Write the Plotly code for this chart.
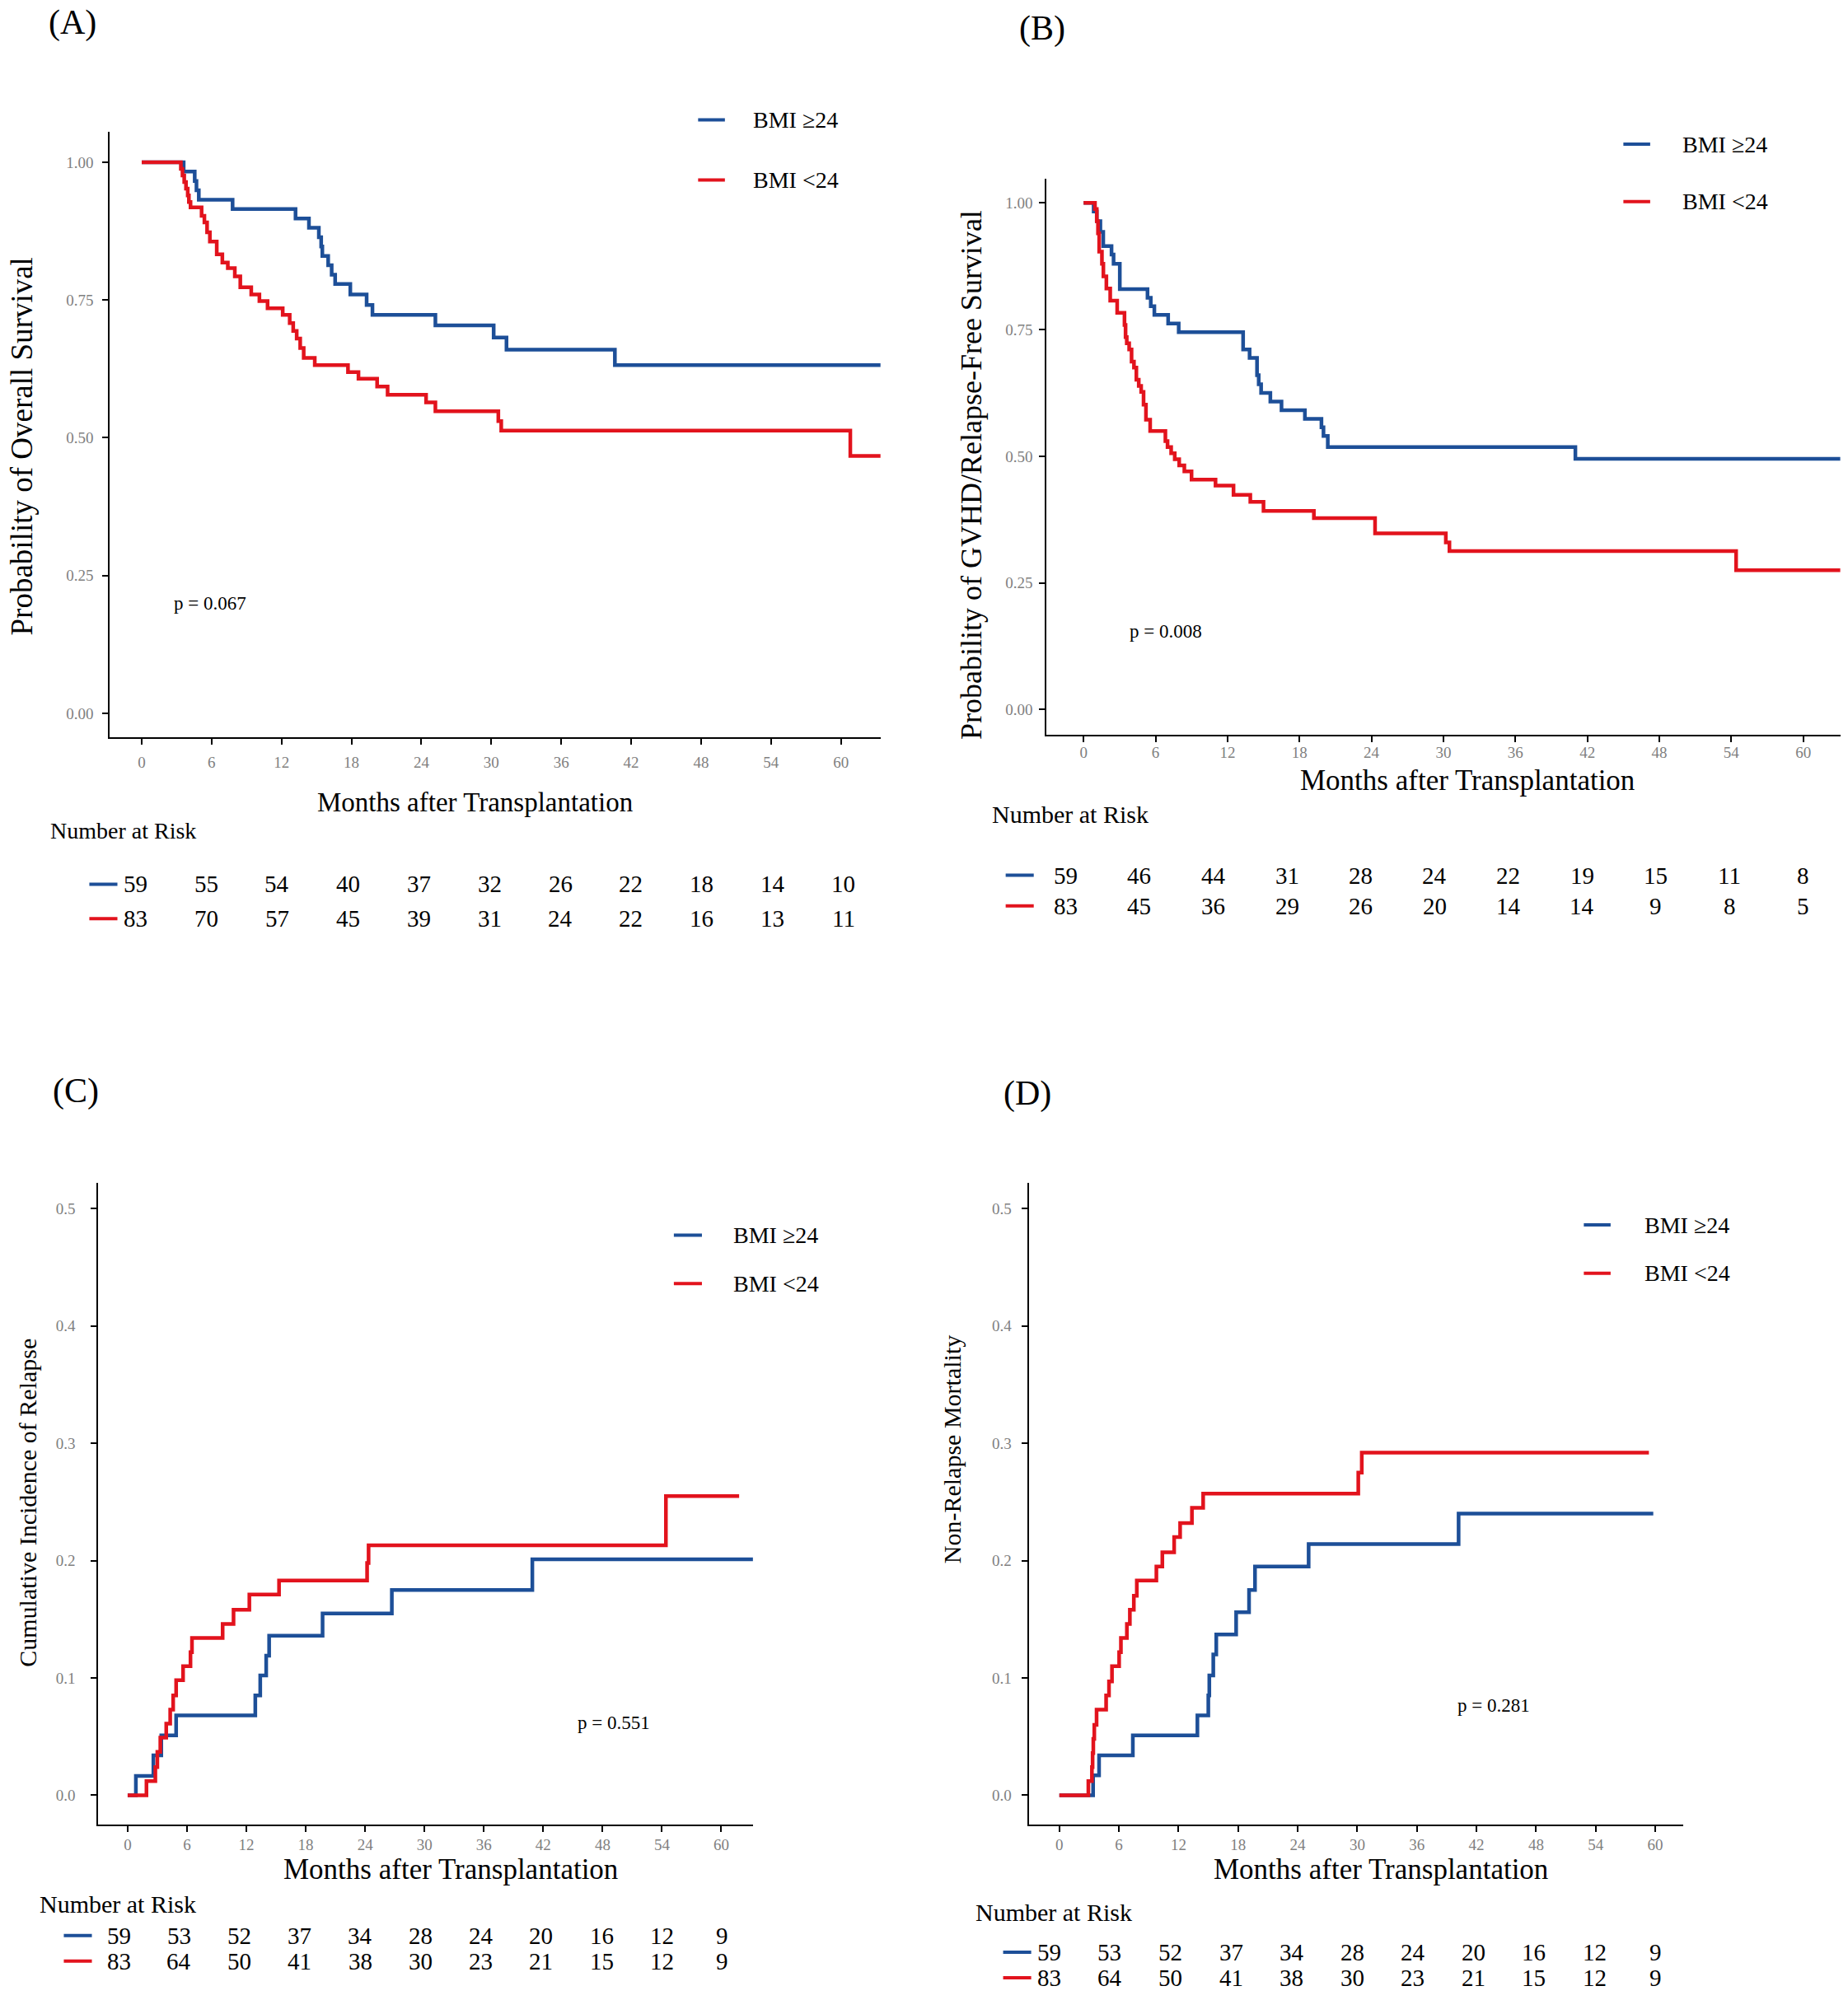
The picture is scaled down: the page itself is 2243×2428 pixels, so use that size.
import plotly.graph_objects as go

W, H = 2243, 2428
# layout positions below are measured on a 1448 x 1567.5 grid of the page
GW, GH = 1448.0, 1567.5
BLUE = '#1D4F98'
RED = '#E2131D'
FONT = 'Liberation Serif'

months = [0, 6, 12, 18, 24, 30, 36, 42, 48, 54, 60]

# (A) overall survival
os_t_hi = [0, 3.6, 4.55, 4.7, 4.9, 7.8, 13.2, 14.35, 15.2, 15.4, 15.5, 16.0, 16.3, 16.6,
           17.9, 19.3, 19.8, 25.2, 30.2, 31.3, 40.6, 63.4]
os_s_hi = [1.0, 0.983, 0.966, 0.949, 0.932, 0.915, 0.898, 0.881, 0.864, 0.847, 0.830, 0.813,
           0.796, 0.779, 0.760, 0.741, 0.723, 0.704, 0.682, 0.660, 0.632, 0.632]
os_t_lo = [0, 3.36, 3.5, 3.65, 3.8, 3.95, 4.05, 4.19, 5.14, 5.38, 5.61, 5.85, 6.44, 6.92, 7.39,
           7.99, 8.46, 9.4, 10.1, 10.8, 12.1, 12.7, 13.0, 13.3, 13.6, 13.9, 14.85, 17.7, 18.6,
           20.2, 21.1, 24.4, 25.2, 30.6, 30.85, 60.8, 63.4]
os_s_lo = [1.0, 0.988, 0.976, 0.964, 0.952, 0.940, 0.928, 0.918, 0.903, 0.891, 0.873, 0.856,
           0.833, 0.818, 0.808, 0.793, 0.773, 0.760, 0.748, 0.735, 0.723, 0.708, 0.694, 0.680,
           0.663, 0.645, 0.632, 0.619, 0.607, 0.593, 0.578, 0.564, 0.548, 0.530, 0.513, 0.467,
           0.467]

# (B) GVHD/relapse-free survival
grfs_t_hi = [0, 0.84, 1.1, 1.4, 1.64, 2.33, 2.5, 3.02, 5.33, 5.6, 5.9, 7.05, 7.93, 13.3, 13.84,
             14.46, 14.6, 14.8, 15.57, 16.5, 18.45, 19.83, 20.0, 20.36, 41.0, 63.1]
grfs_s_hi = [1.0, 0.983, 0.964, 0.943, 0.915, 0.898, 0.880, 0.830, 0.813, 0.796, 0.779, 0.762,
             0.745, 0.711, 0.694, 0.660, 0.642, 0.625, 0.608, 0.591, 0.574, 0.557, 0.540, 0.518,
             0.495, 0.495]
grfs_t_lo = [0, 0.95, 1.1, 1.2, 1.3, 1.53, 1.65, 1.9, 2.22, 2.8, 3.41, 3.5, 3.6, 3.8, 4.0, 4.2,
             4.4, 4.6, 4.8, 5.0, 5.2, 5.55, 6.82, 7.0, 7.3, 7.6, 7.97, 8.4, 9.0, 11.0, 12.5, 13.9,
             15.0, 19.2, 24.3, 30.2, 30.5, 54.4, 63.1]
grfs_s_lo = [1.0, 0.988, 0.964, 0.940, 0.904, 0.880, 0.855, 0.831, 0.807, 0.783, 0.759, 0.735,
             0.723, 0.711, 0.687, 0.675, 0.651, 0.639, 0.627, 0.602, 0.572, 0.550, 0.530, 0.518,
             0.506, 0.494, 0.482, 0.470, 0.454, 0.442, 0.424, 0.410, 0.392, 0.378, 0.348, 0.330,
             0.313, 0.275, 0.275]

# (C) cumulative incidence of relapse
cir_t_hi = [0, 0.83, 2.6, 3.4, 4.9, 12.9, 13.4, 14.0, 14.3, 19.7, 26.7, 40.9, 63.2]
cir_v_hi = [0, 0.0165, 0.034, 0.051, 0.068, 0.085, 0.102, 0.119, 0.136, 0.155, 0.175, 0.201, 0.201]
cir_t_lo = [0, 1.9, 2.8, 3.0, 3.3, 3.9, 4.3, 4.6, 4.9, 5.6, 6.35, 6.5, 9.6, 10.7, 12.3, 15.3,
            24.2, 24.35, 54.4, 61.8]
cir_v_lo = [0, 0.012, 0.024, 0.037, 0.049, 0.061, 0.073, 0.085, 0.098, 0.110, 0.122, 0.134,
            0.146, 0.158, 0.171, 0.183, 0.198, 0.213, 0.255, 0.255]

# (D) non-relapse mortality
nrm_t_hi = [0, 3.4, 4.0, 7.4, 13.9, 15.0, 15.1, 15.5, 15.8, 17.8, 19.1, 19.7, 25.1, 40.2, 59.8]
nrm_v_hi = [0, 0.017, 0.034, 0.051, 0.068, 0.085, 0.102, 0.120, 0.137, 0.156, 0.175, 0.195,
            0.214, 0.240, 0.240]
nrm_t_lo = [0, 2.92, 3.28, 3.35, 3.42, 3.52, 3.75, 4.71, 5.0, 5.3, 6.02, 6.2, 6.8, 7.1, 7.5, 7.8,
            9.77, 10.37, 11.56, 12.16, 13.35, 14.48, 30.1, 30.45, 59.36]
nrm_v_lo = [0, 0.012, 0.024, 0.036, 0.048, 0.060, 0.073, 0.085, 0.097, 0.110, 0.122, 0.134,
            0.146, 0.158, 0.170, 0.183, 0.195, 0.207, 0.220, 0.232, 0.245, 0.257, 0.275, 0.292,
            0.292]

# number at risk
risk_a_hi = [59, 55, 54, 40, 37, 32, 26, 22, 18, 14, 10]
risk_a_lo = [83, 70, 57, 45, 39, 31, 24, 22, 16, 13, 11]
risk_b_hi = [59, 46, 44, 31, 28, 24, 22, 19, 15, 11, 8]
risk_b_lo = [83, 45, 36, 29, 26, 20, 14, 14, 9, 8, 5]
risk_c_hi = [59, 53, 52, 37, 34, 28, 24, 20, 16, 12, 9]
risk_c_lo = [83, 64, 50, 41, 38, 30, 23, 21, 15, 12, 9]
risk_d_hi = [59, 53, 52, 37, 34, 28, 24, 20, 16, 12, 9]
risk_d_lo = [83, 64, 50, 41, 38, 30, 23, 21, 15, 12, 9]

p_values = ['p = 0.067', 'p = 0.008', 'p = 0.551', 'p = 0.281']


def px(x):
    return x / GW


def py(y):
    return 1 - y / GH


panels = [
    dict(label='(A)', lab_xy=(37, 18), box=(86, 690, 103, 578),
         xr=[-2.74, 63.4], yr=[-0.044, 1.056], xoff=5, yoff=7,
         yt=[0, 0.25, 0.5, 0.75, 1.0], ytxt=['0.00', '0.25', '0.50', '0.75', '1.00'],
         ytitle='Probability of Overall Survival', ytitle_xy=(17, 350), ytitle_size=37,
         xtitle_xy=(372, 629), xtitle_size=33,
         curves=[(os_t_hi, os_s_hi), (os_t_lo, os_s_lo)],
         leg_x=(547, 568, 589), leg_y=(94, 141),
         p_xy=(135, 473), nar_xy=(38, 651), nar_size=28,
         risk=(risk_a_hi, risk_a_lo), risk_x=(106, 661), risk_y=(693, 720), mark_x=(70, 92)),
    dict(label='(B)', lab_xy=(797, 22), box=(820, 1442, 140, 576),
         xr=[-3.09, 63.09], yr=[-0.05, 1.048], xoff=-4, yoff=4,
         yt=[0, 0.25, 0.5, 0.75, 1.0], ytxt=['0.00', '0.25', '0.50', '0.75', '1.00'],
         ytitle='Probability of GVHD/Relapse-Free Survival', ytitle_xy=(761, 372), ytitle_size=36,
         xtitle_xy=(1150, 612), xtitle_size=35,
         curves=[(grfs_t_hi, grfs_s_hi), (grfs_t_lo, grfs_s_lo)],
         leg_x=(1272, 1293, 1317), leg_y=(113, 158),
         p_xy=(884, 495), nar_xy=(776, 638), nar_size=30,
         risk=(risk_b_hi, risk_b_lo), risk_x=(835, 1413), risk_y=(686, 710), mark_x=(788, 810)),
    dict(label='(C)', lab_xy=(40, 855), box=(77, 590, 927, 1430),
         xr=[-2.97, 63.2], yr=[-0.025, 0.522], xoff=-1, yoff=15,
         yt=[0, 0.1, 0.2, 0.3, 0.4, 0.5], ytxt=['0.0', '0.1', '0.2', '0.3', '0.4', '0.5'],
         ytitle='Cumulative Incidence of Relapse', ytitle_xy=(22, 1178), ytitle_size=30,
         xtitle_xy=(353, 1465), xtitle_size=35,
         curves=[(cir_t_hi, cir_v_hi), (cir_t_lo, cir_v_lo)],
         leg_x=(528, 550, 573), leg_y=(968, 1006),
         p_xy=(451, 1350), nar_xy=(30, 1492), nar_size=30,
         risk=(risk_c_hi, risk_c_lo), risk_x=(93, 566), risk_y=(1517, 1537), mark_x=(50, 72)),
    dict(label='(D)', lab_xy=(785, 857), box=(806, 1319, 927, 1430),
         xr=[-3.09, 62.83], yr=[-0.025, 0.522], xoff=-1, yoff=8,
         yt=[0, 0.1, 0.2, 0.3, 0.4, 0.5], ytxt=['0.0', '0.1', '0.2', '0.3', '0.4', '0.5'],
         ytitle='Non-Relapse Mortality', ytitle_xy=(746, 1136), ytitle_size=30,
         xtitle_xy=(1082, 1465), xtitle_size=35,
         curves=[(nrm_t_hi, nrm_v_hi), (nrm_t_lo, nrm_v_lo)],
         leg_x=(1241, 1262, 1287), leg_y=(960, 998),
         p_xy=(1141, 1337), nar_xy=(763, 1499), nar_size=30,
         risk=(risk_d_hi, risk_d_lo), risk_x=(822, 1297), risk_y=(1530, 1550), mark_x=(786, 808)),
]

fig = go.Figure()
annotations = []
shapes = []
colors = [BLUE, RED]
groups = ['BMI ≥24', 'BMI <24']


def txt(s, xy, size, xanchor='left', angle=0):
    annotations.append(dict(text=s, x=px(xy[0]), y=py(xy[1]), xref='paper', yref='paper',
                            xanchor=xanchor, yanchor='middle', showarrow=False,
                            textangle=angle, font=dict(family=FONT, size=size, color='black')))


for i, p in enumerate(panels):
    n = '' if i == 0 else str(i + 1)
    x0, x1, y0, y1 = p['box']
    for (t, v), c in zip(p['curves'], colors):
        fig.add_trace(go.Scatter(x=t, y=v, mode='lines', line=dict(color=c, width=4.5, shape='hv'),
                                 xaxis='x' + n, yaxis='y' + n, showlegend=False, hoverinfo='skip'))

    axis_common = dict(showline=True, linecolor='black', linewidth=2, ticks='outside',
                       ticklen=7, tickwidth=2, tickcolor='black', showgrid=False, zeroline=False,
                       tickfont=dict(family=FONT, size=19, color='#808080'))
    fig.update_layout(**{
        'xaxis' + n: dict(domain=[px(x0), px(x1)], range=p['xr'], tickvals=months,
                          anchor='y' + n, ticklabelstandoff=p['xoff'], **axis_common),
        'yaxis' + n: dict(domain=[py(y1), py(y0)], range=p['yr'], tickvals=p['yt'],
                          ticktext=p['ytxt'], anchor='x' + n, ticklabelstandoff=p['yoff'],
                          **axis_common),
    })

    txt(p['label'], p['lab_xy'], 42)
    txt(p['ytitle'], p['ytitle_xy'], p['ytitle_size'], xanchor='center', angle=-90)
    txt('Months after Transplantation', p['xtitle_xy'], p['xtitle_size'], xanchor='center')
    txt(p_values[i], p['p_xy'], 23)
    txt('Number at Risk', p['nar_xy'], p['nar_size'])

    # legend keys
    lx0, lx1, ltx = p['leg_x']
    for ly, c, g in zip(p['leg_y'], colors, groups):
        shapes.append(dict(type='line', xref='paper', yref='paper', x0=px(lx0), x1=px(lx1),
                           y0=py(ly), y1=py(ly), line=dict(color=c, width=4)))
        txt(g, (ltx, ly), 28)

    # risk table
    rx0, rx1 = p['risk_x']
    mx0, mx1 = p['mark_x']
    for row, ry, c in zip(p['risk'], p['risk_y'], colors):
        shapes.append(dict(type='line', xref='paper', yref='paper', x0=px(mx0), x1=px(mx1),
                           y0=py(ry), y1=py(ry), line=dict(color=c, width=4)))
        for k, val in enumerate(row):
            xk = rx0 + (rx1 - rx0) * k / (len(row) - 1)
            txt(str(val), (xk, ry), 29, xanchor='center')

fig.update_layout(width=W, height=H, margin=dict(l=0, r=0, t=0, b=0),
                  paper_bgcolor='white', plot_bgcolor='white',
                  annotations=annotations, shapes=shapes, showlegend=False)

fig.write_html('out.html', config={'displayModeBar': False},
               post_script="document.body.style.margin='0';")
